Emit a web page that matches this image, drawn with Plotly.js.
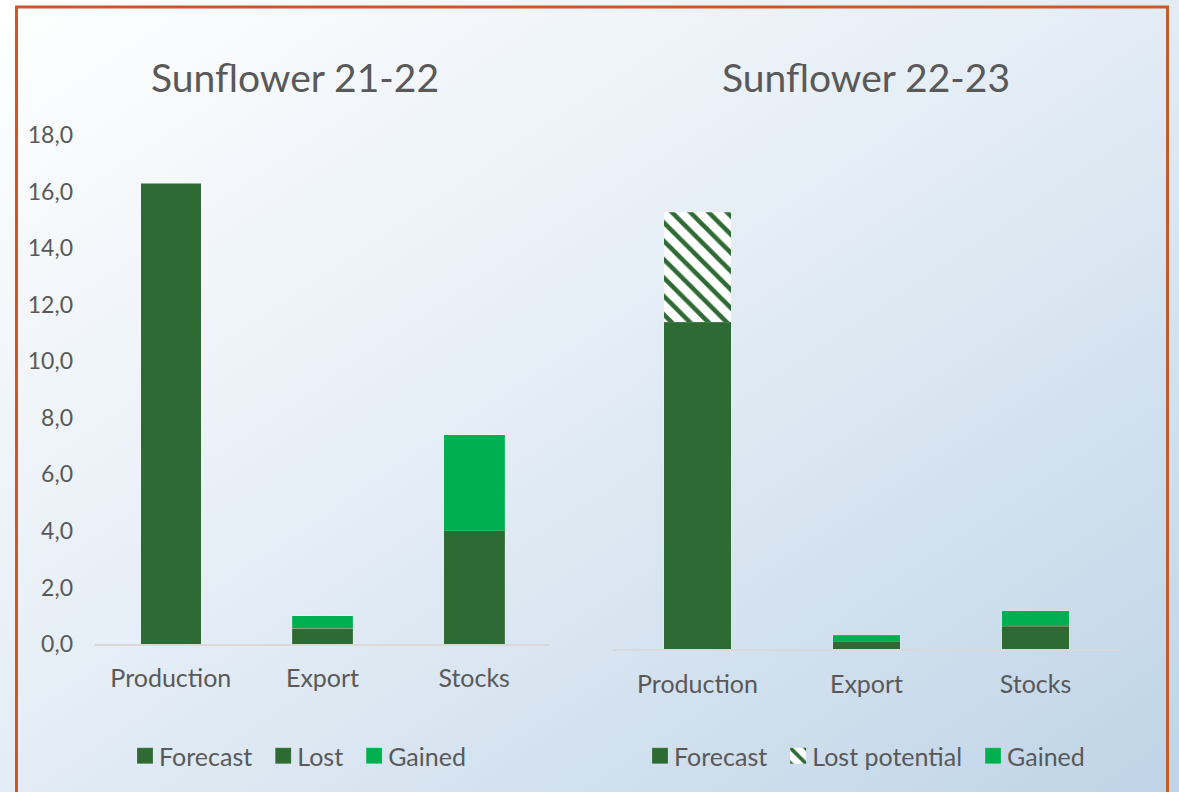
<!DOCTYPE html>
<html><head><meta charset="utf-8">
<script src="https://cdn.plot.ly/plotly-3.0.1.min.js"></script>
<style>
html,body{margin:0;padding:0;width:1179px;height:792px;overflow:hidden;
background:linear-gradient(to bottom right,#ffffff 0%,#e3ecf5 50%,#bfd4e7 100%);}
#chart{width:1179px;height:792px;}
</style>
</head><body><div id="chart"></div>
<script>
const categories = ['Production', 'Export', 'Stocks'];
const forecast2122 = [16.3, 0.55, 4.0];
const lost2122 = [0, 0, 0];
const gained2122 = [0, 0.45, 3.4];
const forecast2223 = [11.45, 0.27, 0.8];
const lostPotential2223 = [3.85, 0, 0];
const gained2223 = [0, 0.21, 0.54];
const titles = ['Sunflower 21-22', 'Sunflower 22-23'];

const DARK = '#2e6a33';
const LIGHT = '#00b050';
const TXT = '#595959';
const W = 1179, H = 792;
const px = v => v / W;
const py = v => 1 - v / H;

const edge = {color: 'rgba(255,255,255,0.25)', width: 0.5};
const traces = [
  {type: 'bar', name: 'Forecast', x: categories, y: forecast2122, xaxis: 'x', yaxis: 'y',
   marker: {color: DARK, line: edge}, legend: 'legend'},
  {type: 'bar', name: 'Lost', x: categories, y: lost2122, xaxis: 'x', yaxis: 'y',
   marker: {color: DARK, line: edge}, legend: 'legend'},
  {type: 'bar', name: 'Gained', x: categories, y: gained2122, xaxis: 'x', yaxis: 'y',
   marker: {color: LIGHT, line: edge}, legend: 'legend'},
  {type: 'bar', name: 'Forecast', x: categories, y: forecast2223, xaxis: 'x2', yaxis: 'y2',
   marker: {color: DARK, line: edge}, legend: 'legend2'},
  {type: 'bar', name: 'Lost potential', x: categories, y: lostPotential2223, xaxis: 'x2', yaxis: 'y2',
   marker: {color: '#ffffff', line: {width: 0},
            pattern: {shape: '\\', fgcolor: DARK, bgcolor: '#ffffff', size: 13, solidity: 0.35, fillmode: 'replace'}},
   legend: 'legend2'},
  {type: 'bar', name: 'Gained', x: categories, y: gained2223, xaxis: 'x2', yaxis: 'y2',
   marker: {color: LIGHT, line: edge}, legend: 'legend2'}
];

const fontFam = 'Lato, "Open Sans", sans-serif';
const layout = {
  width: W, height: H,
  margin: {l: 0, r: 0, t: 0, b: 0},
  paper_bgcolor: 'rgba(0,0,0,0)',
  plot_bgcolor: 'rgba(0,0,0,0)',
  barmode: 'stack',
  bargap: 0.6,
  separators: ',.',
  font: {family: fontFam, color: TXT, size: 24},
  xaxis: {domain: [px(95), px(550)], anchor: 'y', showline: true, linecolor: '#d9d9d9', linewidth: 2,
          ticks: '', ticklabelstandoff: 11, tickfont: {size: 25, color: TXT}, showgrid: false, zeroline: false},
  yaxis: {domain: [py(644), py(135)], anchor: 'x', range: [0, 18], dtick: 2, tickformat: '.1f',
          showgrid: false, zeroline: false, showline: false, ticks: '', ticklabelstandoff: 21,
          tickfont: {size: 23, color: TXT}},
  xaxis2: {domain: [px(613), px(1120)], anchor: 'y2', showline: true, linecolor: '#d9d9d9', linewidth: 2,
           ticks: '', ticklabelstandoff: 12, tickfont: {size: 25, color: TXT}, showgrid: false, zeroline: false},
  yaxis2: {domain: [py(649), py(135)], anchor: 'x2', range: [0, 18], visible: false},
  legend: {orientation: 'h', x: px(295), xanchor: 'center', y: py(756), yanchor: 'middle',
           font: {size: 25, color: TXT}, bgcolor: 'rgba(0,0,0,0)', traceorder: 'normal'},
  legend2: {orientation: 'h', x: px(862), xanchor: 'center', y: py(756), yanchor: 'middle',
            font: {size: 25, color: TXT}, bgcolor: 'rgba(0,0,0,0)', traceorder: 'normal'},
  annotations: [
    {text: titles[0], xref: 'paper', yref: 'paper', x: px(295), y: py(77), xanchor: 'center', yanchor: 'middle',
     showarrow: false, font: {size: 39, color: TXT, family: fontFam}},
    {text: titles[1], xref: 'paper', yref: 'paper', x: px(866), y: py(77), xanchor: 'center', yanchor: 'middle',
     showarrow: false, font: {size: 39, color: TXT, family: fontFam}}
  ],
  shapes: [
    {type: 'rect', xref: 'paper', yref: 'paper', x0: px(16.5), x1: px(1167.5), y0: py(810), y1: py(7),
     line: {color: '#c55a2b', width: 3}, fillcolor: 'rgba(0,0,0,0)', layer: 'above'}
  ],
  showlegend: true
};

Plotly.newPlot('chart', traces, layout, {staticPlot: true, displayModeBar: false}).then(function () {
  // enlarge legend swatches to match the reference's 16px squares
  document.querySelectorAll('.legendpoints path').forEach(function (p) {
    const orig = p.getAttribute('transform') || '';
    p.setAttribute('transform', orig + ' translate(6,0) scale(1.33)');
  });
});
</script>
</body></html>
